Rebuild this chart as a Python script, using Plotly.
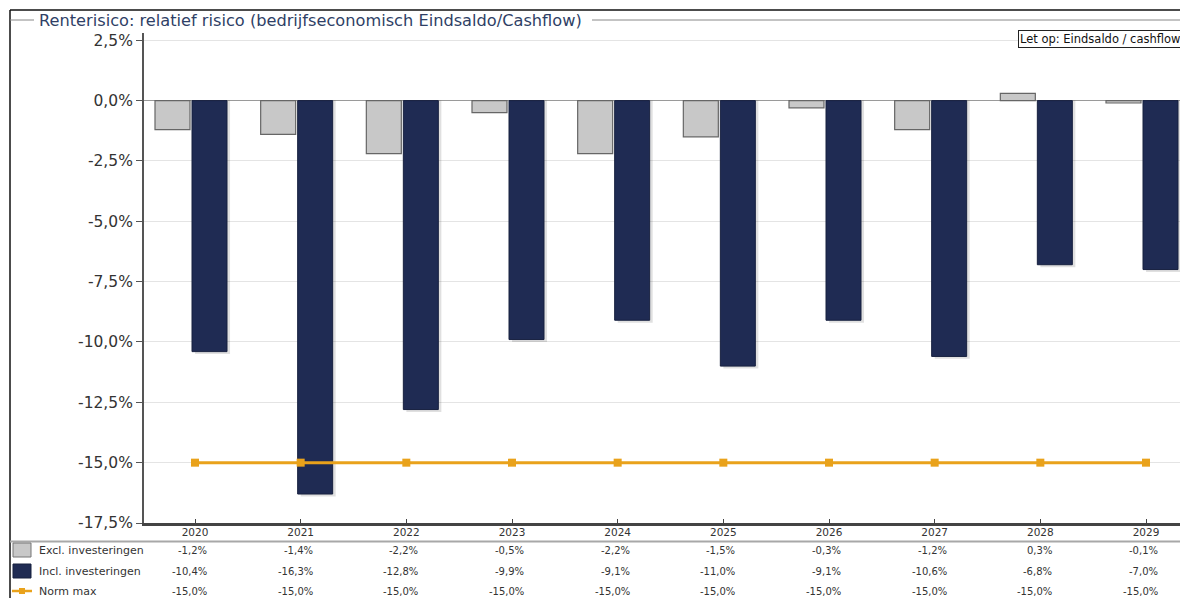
import plotly.graph_objects as go

# ---- data ----
years = [2020, 2021, 2022, 2023, 2024, 2025, 2026, 2027, 2028, 2029]
excl_invest = [-1.2, -1.4, -2.2, -0.5, -2.2, -1.5, -0.3, -1.2, 0.3, -0.1]
incl_invest = [-10.4, -16.3, -12.8, -9.9, -9.1, -11.0, -9.1, -10.6, -6.8, -7.0]
norm_max = [-15.0] * 10
series_names = ["Excl. investeringen", "Incl. investeringen", "Norm max"]
title_text = "Renterisico: relatief risico (bedrijfseconomisch Eindsaldo/Cashflow)"
note_text = "Let op: Eindsaldo / cashflow"

PAGE_OFF = 8            # default body margin of the html page
W, H = 1188 - PAGE_OFF, 598 - PAGE_OFF
FONT = "DejaVu Sans"
GRAY = "#c8c8c8"
NAVY = "#1f2b53"
ORANGE = "#e9a21b"
TXT = "#333333"

def px_x(p):
    return (p - PAGE_OFF) / W

def px_y(p):
    return (H - (p - PAGE_OFF)) / H

def fmt(v):
    return ("%.1f%%" % v).replace(".", ",")

# x geometry: category centres at 195 px (2020) and 1146 px (2029)
plot_left = 144
unit = (1146 - 195) / 9.0
x0 = years[0] - (195 - plot_left) / unit
x1 = years[-1] + (1188 - 1146) / unit

fig = go.Figure()

# subtle shadows
fig.add_trace(go.Bar(x=years, y=[v - 0.1 for v in incl_invest], offset=-0.028 + 3 / unit,
                     width=35 / unit, marker=dict(color="rgba(0,0,0,0.12)", line=dict(width=0)),
                     showlegend=False, hoverinfo="skip"))
fig.add_trace(go.Bar(x=years, y=excl_invest, name=series_names[0], offset=-40 / unit,
                     width=35 / unit, marker=dict(color=GRAY, line=dict(color="#666666", width=1.2))))
fig.add_trace(go.Bar(x=years, y=incl_invest, name=series_names[1], offset=-3 / unit,
                     width=35 / unit, marker=dict(color=NAVY, line=dict(color="#17203f", width=1))))
fig.add_trace(go.Scatter(x=years, y=norm_max, name=series_names[2], mode="lines+markers",
                         line=dict(color=ORANGE, width=3),
                         marker=dict(symbol="square", size=8, color=ORANGE)))

fig.update_layout(
    width=W, height=H,
    margin=dict(l=0, r=0, t=0, b=0),
    paper_bgcolor="white", plot_bgcolor="white",
    barmode="overlay",
    showlegend=False,
    font=dict(family=FONT, color=TXT),
    xaxis=dict(
        domain=[px_x(plot_left), 1.0],
        range=[x0, x1],
        tickmode="array", tickvals=years, ticktext=[str(y) for y in years],
        showgrid=False, zeroline=False,
        showline=True, linecolor="#444444", linewidth=3,
        ticks="inside", ticklen=4, tickcolor="#444444",
        ticklabelstandoff=-3,
        tickfont=dict(size=10.5, color=TXT, family=FONT),
        automargin=False,
    ),
    yaxis=dict(
        domain=[px_y(523), px_y(33)],
        range=[-17.5, 2.8],
        tickmode="array", tickvals=[2.5, 0, -2.5, -5, -7.5, -10, -12.5, -15, -17.5],
        ticktext=[fmt(v) for v in [2.5, 0, -2.5, -5, -7.5, -10, -12.5, -15, -17.5]],
        showgrid=True, gridcolor="#e4e4e4", gridwidth=1,
        zeroline=True, zerolinecolor="#9a9a9a", zerolinewidth=1,
        showline=True, linecolor="#555555", linewidth=2,
        ticks="outside", ticklen=6, tickcolor="#555555",
        tickfont=dict(size=15.5, color=TXT, family=FONT),
        automargin=False,
    ),
)

shapes = []
# outer frame
shapes.append(dict(type="line", xref="paper", yref="paper", x0=px_x(10), x1=1, y0=px_y(10), y1=px_y(10),
                   line=dict(color="#111111", width=1.5)))
shapes.append(dict(type="line", xref="paper", yref="paper", x0=px_x(10), x1=px_x(10), y0=px_y(10), y1=0,
                   line=dict(color="#111111", width=1.5)))
# title rule
shapes.append(dict(type="line", xref="paper", yref="paper", x0=px_x(10), x1=px_x(34), y0=px_y(20), y1=px_y(20),
                   line=dict(color="#888888", width=1)))
shapes.append(dict(type="line", xref="paper", yref="paper", x0=px_x(592), x1=1, y0=px_y(20), y1=px_y(20),
                   line=dict(color="#888888", width=1)))
# table separator
shapes.append(dict(type="line", xref="paper", yref="paper", x0=px_x(10), x1=1, y0=px_y(541.5), y1=px_y(541.5),
                   line=dict(color="#a8a8a8", width=2)))
# legend swatches in table
shapes.append(dict(type="rect", xref="paper", yref="paper", x0=px_x(13), x1=px_x(31), y0=px_y(557), y1=px_y(543),
                   line=dict(color="#777777", width=1), fillcolor=GRAY))
shapes.append(dict(type="rect", xref="paper", yref="paper", x0=px_x(13), x1=px_x(31), y0=px_y(578), y1=px_y(564),
                   line=dict(color="#17203f", width=1), fillcolor=NAVY))
shapes.append(dict(type="line", xref="paper", yref="paper", x0=px_x(12), x1=px_x(32), y0=px_y(591), y1=px_y(591),
                   line=dict(color=ORANGE, width=2.5)))
shapes.append(dict(type="rect", xref="paper", yref="paper", x0=px_x(19), x1=px_x(25), y0=px_y(594), y1=px_y(588),
                   line=dict(color=ORANGE, width=0), fillcolor=ORANGE))
fig.update_layout(shapes=shapes)

ann = []
ann.append(dict(text=title_text, xref="paper", yref="paper", x=px_x(37), y=px_y(20),
                xanchor="left", yanchor="middle", showarrow=False,
                font=dict(size=16.2, color="#2f3f66", family=FONT)))
ann.append(dict(text=note_text, xref="paper", yref="paper", x=px_x(1182), y=px_y(39),
                xanchor="right", yanchor="middle", showarrow=False,
                bordercolor="#222222", borderwidth=1, borderpad=1, bgcolor="white",
                font=dict(size=11.5, color="#111111", family=FONT)))

row_y = [550, 571, 591]
rows = [excl_invest, incl_invest, norm_max]
for name, ry, vals in zip(series_names, row_y, rows):
    ann.append(dict(text=name, xref="paper", yref="paper", x=px_x(37), y=px_y(ry),
                    xanchor="left", yanchor="middle", showarrow=False,
                    font=dict(size=11, color=TXT, family=FONT)))
    for yr, v in zip(years, vals):
        ann.append(dict(text=fmt(v), xref="x", yref="paper", x=yr + 14 / unit, y=px_y(ry),
                        xanchor="right", yanchor="middle", showarrow=False,
                        font=dict(size=10, color=TXT, family=FONT)))
fig.update_layout(annotations=ann)

fig.write_html("out.html")
